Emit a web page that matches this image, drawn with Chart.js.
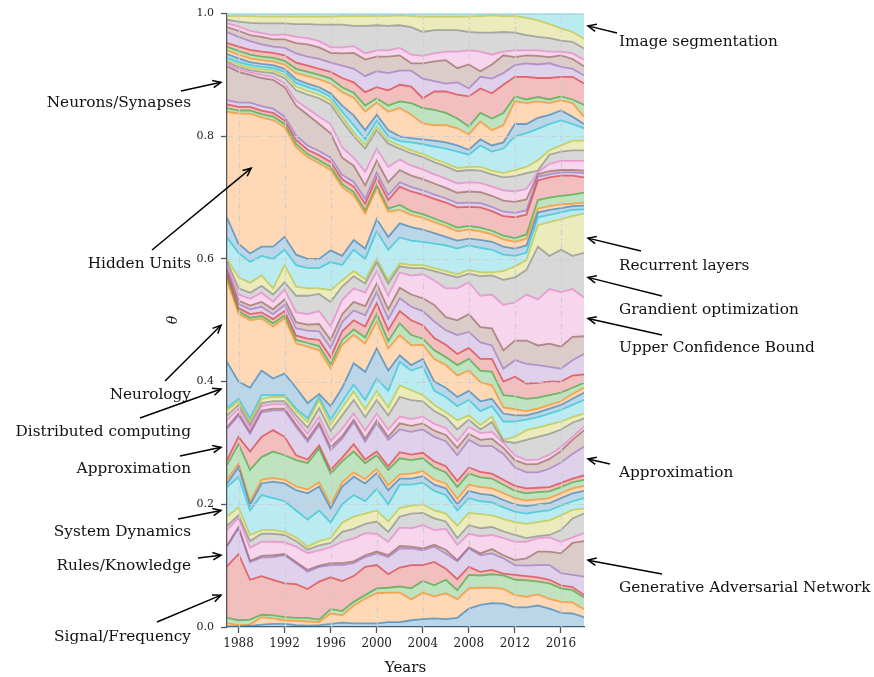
<!DOCTYPE html>
<html>
<head>
<meta charset="utf-8">
<script src="https://cdn.jsdelivr.net/npm/chart.js@4.4.1/dist/chart.umd.min.js"></script>
<style>
  html, body { margin: 0; padding: 0; background: #fff; }
</style>
</head>
<body>
<canvas id="chart" width="874" height="677"></canvas>
<script>
const years = [1987,1988,1989,1990,1991,1992,1993,1994,1995,1996,1997,1998,1999,2000,2001,2002,
               2003,2004,2005,2006,2007,2008,2009,2010,2011,2012,2013,2014,2015,2016,2017,2018];
const xTickYears = [1988,1992,1996,2000,2004,2008,2012,2016];
const yTickValues = [0, 0.2, 0.4, 0.6, 0.8, 1.0];

// top edge of each topic band (cumulative theta), bottom band first
const topic00 = [.001,.001,.002,.004,.005,.005,.003,.002,.003,.005,.007,.006,.006,.006,.008,.008,.011,.013,.014,.013,.015,.030,.036,.039,.038,.032,.032,.035,.030,.023,.022,.016];
const topic01 = [.006,.003,.004,.016,.014,.011,.010,.009,.008,.022,.019,.035,.046,.055,.056,.056,.045,.056,.050,.055,.045,.063,.064,.064,.062,.052,.049,.053,.046,.041,.040,.029];
const topic02 = [.015,.011,.012,.020,.019,.016,.015,.015,.012,.029,.026,.041,.052,.063,.064,.066,.063,.075,.068,.077,.060,.085,.084,.086,.084,.077,.076,.074,.071,.063,.060,.048];
const topic03 = [.099,.119,.077,.083,.077,.071,.070,.062,.074,.081,.075,.083,.098,.101,.086,.097,.101,.101,.106,.095,.078,.098,.090,.093,.087,.085,.083,.081,.077,.068,.065,.052];
const topic04 = [.131,.161,.106,.113,.114,.117,.104,.090,.098,.101,.101,.104,.114,.120,.114,.128,.128,.125,.131,.120,.107,.128,.117,.120,.112,.101,.100,.101,.101,.088,.085,.082];
const topic05 = [.133,.163,.108,.116,.117,.119,.106,.093,.100,.104,.104,.107,.117,.123,.117,.132,.131,.128,.134,.126,.109,.130,.120,.127,.117,.109,.112,.123,.123,.120,.137,.140];
const topic06 = [.158,.178,.129,.139,.139,.138,.131,.120,.125,.130,.139,.144,.153,.152,.139,.162,.161,.166,.158,.160,.134,.152,.148,.150,.145,.139,.139,.145,.146,.139,.146,.153];
const topic07 = [.165,.182,.140,.152,.152,.150,.140,.126,.133,.137,.155,.160,.168,.172,.155,.180,.185,.186,.177,.172,.145,.166,.161,.163,.156,.150,.145,.148,.150,.158,.177,.185];
const topic08 = [.180,.195,.150,.158,.158,.155,.146,.131,.140,.145,.170,.180,.185,.190,.172,.194,.198,.200,.190,.185,.165,.186,.184,.182,.176,.171,.168,.171,.174,.182,.191,.193];
const topic09 = [.228,.245,.190,.215,.210,.205,.190,.175,.190,.170,.200,.215,.205,.225,.200,.232,.232,.235,.222,.215,.190,.210,.205,.203,.195,.188,.185,.188,.190,.198,.205,.210];
const topic10 = [.234,.261,.199,.234,.237,.234,.223,.218,.229,.193,.229,.245,.234,.251,.223,.242,.242,.246,.232,.226,.200,.222,.217,.215,.207,.200,.197,.200,.202,.210,.218,.222];
const topic11 = [.240,.266,.204,.240,.243,.240,.229,.224,.236,.199,.236,.252,.241,.258,.231,.249,.250,.254,.240,.234,.209,.232,.228,.226,.218,.210,.206,.208,.210,.218,.226,.230];
const topic12 = [.264,.298,.256,.277,.286,.280,.272,.267,.291,.250,.270,.286,.267,.280,.256,.275,.272,.275,.260,.252,.228,.250,.244,.242,.232,.222,.218,.220,.221,.228,.236,.240];
const topic13 = [.272,.310,.286,.310,.321,.310,.280,.273,.296,.256,.276,.298,.273,.286,.262,.285,.281,.284,.270,.262,.238,.260,.253,.250,.240,.230,.226,.227,.228,.235,.242,.247];
const topic14 = [.323,.345,.315,.350,.353,.353,.326,.302,.329,.288,.307,.334,.302,.332,.305,.322,.318,.322,.310,.303,.280,.305,.295,.295,.282,.260,.252,.252,.258,.268,.282,.294];
const topic15 = [.326,.348,.318,.353,.356,.356,.330,.306,.333,.293,.311,.338,.307,.337,.310,.332,.328,.332,.320,.313,.292,.315,.305,.307,.292,.272,.265,.266,.274,.287,.305,.321];
const topic16 = [.337,.356,.325,.360,.363,.363,.338,.315,.342,.303,.323,.348,.320,.348,.322,.343,.339,.343,.331,.324,.303,.326,.316,.318,.300,.280,.272,.273,.281,.293,.310,.327];
const topic17 = [.345,.362,.330,.365,.368,.368,.345,.325,.357,.320,.345,.370,.342,.370,.345,.375,.370,.368,.352,.342,.322,.338,.322,.334,.303,.300,.305,.310,.315,.322,.333,.340];
const topic18 = [.353,.368,.335,.372,.375,.375,.352,.334,.370,.330,.358,.384,.355,.385,.358,.394,.386,.378,.362,.350,.337,.345,.329,.343,.305,.310,.321,.325,.330,.335,.342,.348];
const topic19 = [.357,.372,.340,.378,.378,.378,.356,.340,.375,.338,.367,.395,.370,.405,.385,.432,.418,.425,.385,.375,.360,.370,.352,.360,.335,.335,.338,.342,.348,.354,.362,.370];
const topic20 = [.432,.400,.390,.418,.405,.413,.390,.365,.380,.360,.390,.430,.416,.454,.418,.443,.427,.437,.400,.390,.375,.385,.368,.372,.348,.345,.345,.350,.356,.362,.372,.382];
const topic21 = [.565,.511,.500,.503,.490,.503,.462,.457,.451,.421,.460,.476,.462,.498,.454,.476,.459,.460,.437,.427,.410,.418,.399,.394,.358,.355,.352,.356,.362,.368,.380,.390];
const topic22 = [.570,.515,.504,.507,.495,.508,.468,.463,.458,.428,.468,.485,.472,.510,.466,.495,.476,.470,.451,.440,.427,.437,.418,.416,.378,.376,.372,.374,.378,.382,.390,.398];
const topic23 = [.575,.520,.510,.513,.502,.515,.475,.470,.468,.440,.482,.500,.490,.528,.484,.515,.500,.492,.471,.460,.445,.455,.437,.437,.400,.408,.397,.398,.400,.400,.410,.412];
const topic24 = [.580,.527,.518,.522,.510,.525,.487,.483,.482,.455,.497,.516,.508,.546,.502,.536,.522,.515,.498,.484,.476,.481,.464,.459,.421,.435,.429,.427,.424,.421,.435,.445];
const topic25 = [.584,.532,.524,.530,.518,.534,.497,.493,.494,.468,.510,.530,.523,.560,.518,.553,.542,.536,.525,.505,.500,.510,.489,.487,.451,.467,.467,.459,.462,.457,.473,.474];
const topic26 = [.590,.542,.535,.545,.530,.550,.513,.510,.515,.490,.533,.552,.545,.580,.540,.578,.573,.575,.565,.552,.552,.562,.540,.542,.525,.529,.542,.534,.551,.546,.551,.537];
const topic27 = [.596,.552,.545,.556,.542,.562,.540,.540,.543,.530,.555,.572,.560,.595,.560,.588,.585,.585,.580,.575,.570,.576,.572,.573,.566,.570,.582,.620,.605,.615,.605,.610];
const topic28 = [.600,.570,.561,.573,.552,.590,.555,.552,.552,.549,.565,.580,.567,.600,.565,.593,.590,.590,.585,.580,.575,.582,.578,.578,.580,.588,.598,.655,.660,.665,.670,.674];
const topic29 = [.635,.610,.595,.605,.600,.615,.590,.585,.585,.595,.590,.615,.600,.645,.615,.635,.630,.628,.625,.622,.617,.622,.618,.615,.607,.605,.610,.668,.672,.676,.680,.681];
const topic30 = [.667,.625,.609,.620,.620,.636,.607,.600,.600,.614,.605,.631,.617,.665,.636,.658,.652,.648,.642,.636,.630,.633,.631,.628,.620,.617,.622,.676,.680,.683,.686,.687];
const topic31 = [.840,.837,.837,.831,.826,.815,.782,.766,.756,.745,.717,.704,.674,.715,.677,.680,.672,.667,.660,.653,.645,.648,.645,.640,.632,.628,.633,.682,.686,.689,.690,.692];
const topic32 = [.846,.842,.842,.836,.832,.820,.787,.771,.761,.750,.722,.709,.679,.720,.682,.688,.678,.673,.666,.659,.651,.654,.651,.646,.638,.634,.640,.696,.700,.703,.705,.708];
const topic33 = [.852,.848,.848,.842,.838,.826,.794,.778,.769,.758,.730,.718,.690,.733,.696,.718,.710,.705,.698,.692,.684,.685,.684,.678,.670,.668,.672,.728,.733,.736,.736,.733];
const topic34 = [.859,.855,.855,.849,.845,.832,.801,.785,.776,.765,.737,.726,.698,.741,.704,.725,.717,.712,.705,.699,.691,.692,.691,.685,.677,.675,.679,.734,.738,.741,.741,.740];
const topic35 = [.914,.905,.900,.895,.892,.880,.850,.835,.820,.805,.765,.752,.720,.760,.725,.745,.736,.730,.723,.716,.708,.710,.709,.703,.695,.693,.697,.738,.743,.745,.745,.744];
const topic36 = [.918,.909,.904,.900,.897,.886,.858,.845,.832,.820,.782,.765,.742,.780,.750,.762,.752,.746,.738,.731,.723,.725,.724,.718,.712,.710,.714,.741,.755,.760,.760,.760];
const topic37 = [.921,.913,.908,.905,.903,.895,.875,.868,.862,.852,.825,.800,.780,.810,.788,.780,.772,.766,.758,.751,.743,.745,.744,.738,.733,.735,.740,.744,.770,.775,.777,.777];
const topic38 = [.924,.917,.912,.909,.907,.900,.881,.874,.868,.858,.832,.806,.786,.816,.793,.785,.777,.771,.763,.756,.748,.750,.750,.744,.740,.745,.750,.761,.777,.785,.793,.793];
const topic39 = [.928,.921,.916,.913,.911,.905,.887,.880,.874,.864,.840,.818,.795,.825,.800,.792,.790,.787,.783,.780,.775,.770,.785,.775,.780,.800,.805,.812,.820,.826,.820,.813];
const topic40 = [.934,.927,.921,.918,.916,.910,.893,.886,.880,.870,.850,.834,.810,.835,.810,.800,.797,.795,.793,.790,.785,.778,.795,.785,.790,.820,.820,.830,.835,.842,.832,.820];
const topic41 = [.940,.933,.927,.924,.922,.917,.903,.898,.893,.886,.872,.863,.840,.855,.840,.846,.835,.821,.818,.818,.813,.803,.824,.810,.818,.857,.854,.857,.854,.859,.854,.832];
const topic42 = [.946,.939,.933,.930,.928,.923,.910,.905,.900,.894,.880,.871,.850,.862,.850,.857,.854,.846,.843,.838,.829,.816,.838,.829,.838,.865,.860,.864,.860,.865,.860,.851];
const topic43 = [.952,.946,.941,.938,.936,.932,.920,.915,.910,.905,.895,.888,.872,.880,.875,.884,.881,.862,.873,.873,.868,.865,.878,.870,.884,.897,.897,.895,.895,.897,.897,.886];
const topic44 = [.970,.962,.955,.950,.946,.944,.935,.930,.926,.920,.915,.910,.898,.906,.903,.907,.907,.894,.890,.886,.888,.878,.897,.894,.903,.916,.919,.917,.919,.913,.910,.899];
const topic45 = [.978,.972,.965,.962,.958,.958,.952,.950,.945,.936,.935,.936,.925,.930,.930,.932,.919,.919,.922,.924,.911,.917,.906,.917,.932,.929,.932,.931,.929,.932,.926,.914];
const topic46 = [.984,.979,.972,.968,.965,.966,.962,.960,.955,.945,.945,.947,.935,.940,.940,.944,.933,.931,.935,.938,.938,.940,.938,.933,.938,.940,.940,.940,.938,.938,.935,.925];
const topic47 = [.990,.987,.985,.984,.984,.984,.983,.983,.982,.982,.982,.980,.980,.981,.980,.981,.978,.970,.973,.973,.973,.970,.969,.969,.970,.969,.965,.962,.960,.956,.954,.943];
const topic48 = [.996,.996,.996,.995,.995,.995,.995,.995,.995,.995,.996,.996,.996,.996,.996,.997,.996,.995,.995,.995,.995,.995,.996,.997,.996,.996,.993,.989,.983,.976,.970,.959];
const topic49 = [1,1,1,1,1,1,1,1,1,1,1,1,1,1,1,1,1,1,1,1,1,1,1,1,1,1,1,1,1,1,1,1];

const topicTops = [topic00,topic01,topic02,topic03,topic04,topic05,topic06,topic07,topic08,topic09,
                   topic10,topic11,topic12,topic13,topic14,topic15,topic16,topic17,topic18,topic19,
                   topic20,topic21,topic22,topic23,topic24,topic25,topic26,topic27,topic28,topic29,
                   topic30,topic31,topic32,topic33,topic34,topic35,topic36,topic37,topic38,topic39,
                   topic40,topic41,topic42,topic43,topic44,topic45,topic46,topic47,topic48,topic49];

// matplotlib tab10 cycle
const palette = [[31,119,180],[255,127,14],[44,160,44],[214,39,40],[148,103,189],
                 [140,86,75],[227,119,194],[127,127,127],[188,189,34],[23,190,207]];

// labels with arrows; tip y is a theta value, positions are canvas pixels
const notes = [
  { label: 'Neurons/Synapses', side: 'left', textY: 103, tail: [181, 91], tipValue: 0.888 },
  { label: 'Hidden Units', side: 'left', textY: 264, tail: [152, 250], tipYear: 1989.1, tipValue: 0.748 },
  { label: 'Neurology', side: 'left', textY: 395, tail: [165, 381], tipValue: 0.492 },
  { label: 'Distributed computing', side: 'left', textY: 432, tail: [140, 418], tipValue: 0.388 },
  { label: 'Approximation', side: 'left', textY: 469, tail: [180, 456], tipValue: 0.293 },
  { label: 'System Dynamics', side: 'left', textY: 532, tail: [178, 519], tipValue: 0.190 },
  { label: 'Rules/Knowledge', side: 'left', textY: 566, tail: [198, 558], tipValue: 0.117 },
  { label: 'Signal/Frequency', side: 'left', textY: 637, tail: [157, 622], tipValue: 0.052 },
  { label: 'Image segmentation', side: 'right', textY: 42, tail: [617, 33], tipValue: 0.980 },
  { label: 'Recurrent layers', side: 'right', textY: 266, tail: [641, 251], tipValue: 0.634 },
  { label: 'Grandient optimization', side: 'right', textY: 310, tail: [662, 296], tipValue: 0.570 },
  { label: 'Upper Confidence Bound', side: 'right', textY: 348, tail: [662, 335], tipValue: 0.503 },
  { label: 'Approximation', side: 'right', textY: 473, tail: [610, 464], tipValue: 0.274 },
  { label: 'Generative Adversarial Network', side: 'right', textY: 588, tail: [662, 574], tipValue: 0.109 }
];

const SERIF = '"DejaVu Serif", "Liberation Serif", serif';

function rgba(c, a) {
  return 'rgba(' + c[0] + ',' + c[1] + ',' + c[2] + ',' + a + ')';
}

function drawArrow(ctx, x0, y0, x1, y1) {
  ctx.beginPath();
  ctx.moveTo(x0, y0);
  ctx.lineTo(x1, y1);
  ctx.stroke();
  var ang = Math.atan2(y1 - y0, x1 - x0);
  var len = 9, spread = 0.42;
  ctx.beginPath();
  ctx.moveTo(x1 - len * Math.cos(ang - spread), y1 - len * Math.sin(ang - spread));
  ctx.lineTo(x1, y1);
  ctx.lineTo(x1 - len * Math.cos(ang + spread), y1 - len * Math.sin(ang + spread));
  ctx.stroke();
}

// dash-dot grid over the bands, plus axis titles and the arrows
const overlay = {
  id: 'overlay',
  afterDatasetsDraw(chart) {
    var ctx = chart.ctx, area = chart.chartArea;
    var xs = chart.scales.x, ys = chart.scales.y;
    ctx.save();
    ctx.strokeStyle = 'rgba(205,205,210,0.95)';
    ctx.lineWidth = 1.2;
    ctx.setLineDash([6, 3, 1.5, 3]);
    xTickYears.forEach(function (yr) {
      var px = Math.round(xs.getPixelForValue(yr)) + 0.5;
      ctx.beginPath();
      ctx.moveTo(px, area.top);
      ctx.lineTo(px, area.bottom);
      ctx.stroke();
    });
    yTickValues.slice(1).forEach(function (v) {
      var py = Math.round(ys.getPixelForValue(v)) + 0.5;
      ctx.beginPath();
      ctx.moveTo(area.left, py);
      ctx.lineTo(area.right, py);
      ctx.stroke();
    });
    ctx.restore();
  },
  afterDraw(chart) {
    var ctx = chart.ctx, area = chart.chartArea;
    var xs = chart.scales.x, ys = chart.scales.y;
    ctx.save();
    ctx.fillStyle = '#111';
    ctx.font = '15px ' + SERIF;
    ctx.textAlign = 'center';
    ctx.textBaseline = 'middle';
    ctx.fillText('Years', (area.left + area.right) / 2, 668);

    ctx.save();
    ctx.translate(173, 320);
    ctx.rotate(-Math.PI / 2);
    ctx.font = 'italic 14px ' + SERIF;
    ctx.fillText('θ', 0, 0);
    ctx.restore();

    ctx.strokeStyle = '#000';
    ctx.lineWidth = 1.5;
    ctx.font = '15.3px ' + SERIF;
    notes.forEach(function (n) {
      var tipX;
      if (n.tipYear !== undefined) tipX = xs.getPixelForValue(n.tipYear);
      else if (n.side === 'left') tipX = area.left - 6;
      else tipX = area.right + 4;
      var tipY = ys.getPixelForValue(n.tipValue);
      drawArrow(ctx, n.tail[0], n.tail[1], tipX, tipY);
      ctx.textAlign = n.side === 'left' ? 'right' : 'left';
      ctx.fillText(n.label, n.side === 'left' ? 191 : 619, n.textY);
    });
    ctx.restore();
  }
};

const datasets = topicTops.map(function (tops, i) {
  var col = palette[i % palette.length];
  return {
    data: years.map(function (yr, j) { return { x: yr, y: tops[j] }; }),
    borderColor: rgba(col, 0.6),
    backgroundColor: rgba(col, 0.3),
    borderWidth: 1.8,
    pointRadius: 0,
    tension: 0,
    fill: i === 0 ? 'origin' : '-1'
  };
});

new Chart(document.getElementById('chart'), {
  type: 'line',
  data: { datasets: datasets },
  options: {
    responsive: false,
    animation: false,
    devicePixelRatio: 1,
    layout: { padding: { left: 170, right: 290, top: 13, bottom: 0 } },
    plugins: {
      legend: { display: false },
      tooltip: { enabled: false },
      filler: { drawTime: 'beforeDatasetsDraw' }
    },
    scales: {
      x: {
        type: 'linear',
        min: 1987,
        max: 2018,
        afterBuildTicks: function (s) { s.ticks = xTickYears.map(function (v) { return { value: v }; }); },
        afterFit: function (s) { s.height = 50; },
        border: { display: true, color: '#555', width: 1.3 },
        grid: { drawOnChartArea: false, drawTicks: true, tickLength: 6, tickColor: '#555', tickWidth: 1.3 },
        ticks: {
          autoSkip: false, maxRotation: 0, padding: 4, color: '#222',
          font: { family: SERIF, size: 12 },
          callback: function (v) { return String(v); }
        }
      },
      y: {
        min: 0,
        max: 1,
        afterBuildTicks: function (s) { s.ticks = yTickValues.map(function (v) { return { value: v }; }); },
        afterFit: function (s) { s.width = 57; },
        border: { display: true, color: '#555', width: 1.3 },
        grid: { drawOnChartArea: false, drawTicks: true, tickLength: 6, tickColor: '#555', tickWidth: 1.3 },
        ticks: {
          padding: 7, color: '#222',
          font: { family: SERIF, size: 11 },
          callback: function (v) { return v.toFixed(1); }
        }
      }
    }
  },
  plugins: [overlay]
});
</script>
</body>
</html>
